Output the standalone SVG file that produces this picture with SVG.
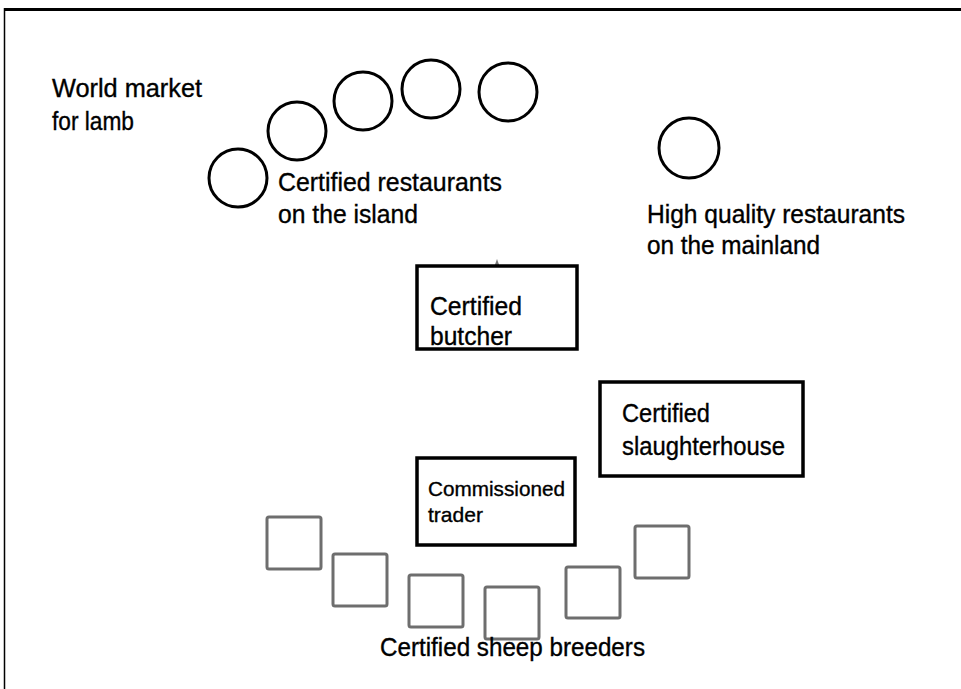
<svg xmlns="http://www.w3.org/2000/svg" width="961" height="689" viewBox="0 0 961 689">
<style>
text{font-family:"Liberation Sans",Arial,sans-serif;fill:#000;stroke:#000;stroke-width:0.35;}
.t{font-size:25px;}
.s{font-size:21px;}
.c{fill:none;stroke:#000;stroke-width:3;}
.b{fill:#fff;stroke:#000;stroke-width:3.5;}
.q{fill:none;stroke:#6e6e6e;stroke-width:3;}
</style>
<rect width="961" height="689" fill="#fff"/>
<g id="frame">
<line x1="4" y1="9.5" x2="961" y2="9.5" stroke="#000" stroke-width="3"/>
<line x1="4.5" y1="8" x2="4.5" y2="689" stroke="#000" stroke-width="1.5"/>
</g>
<g id="connectors">
<path d="M497,259 L499.5,266 L494.5,266 Z" fill="#777"/>
</g>
<g id="world-market">
<text class="t" x="52" y="97" textLength="150" lengthAdjust="spacingAndGlyphs">World market</text>
<text class="t" x="52" y="130" textLength="82" lengthAdjust="spacingAndGlyphs">for lamb</text>
</g>
<g id="island-restaurants">
<circle class="c" cx="238" cy="178" r="29"/>
<circle class="c" cx="297" cy="131" r="29"/>
<circle class="c" cx="363" cy="101" r="29"/>
<circle class="c" cx="431" cy="89" r="29"/>
<circle class="c" cx="508" cy="92" r="29"/>
<text class="t" x="278" y="191" textLength="224" lengthAdjust="spacingAndGlyphs">Certified restaurants</text>
<text class="t" x="278" y="223" textLength="140" lengthAdjust="spacingAndGlyphs">on the island</text>
</g>
<g id="mainland-restaurants">
<circle class="c" cx="689" cy="148" r="30"/>
<text class="t" x="647" y="223" textLength="258" lengthAdjust="spacingAndGlyphs">High quality restaurants</text>
<text class="t" x="647" y="254" textLength="173" lengthAdjust="spacingAndGlyphs">on the mainland</text>
</g>
<g id="butcher">
<rect class="b" x="417" y="266" width="160" height="83"/>
<text class="t" x="430" y="315" textLength="92" lengthAdjust="spacingAndGlyphs">Certified</text>
<text class="t" x="430" y="345" textLength="82" lengthAdjust="spacingAndGlyphs">butcher</text>
</g>
<g id="slaughterhouse">
<rect class="b" x="600" y="382" width="203" height="94"/>
<text class="t" x="622" y="422" textLength="88" lengthAdjust="spacingAndGlyphs">Certified</text>
<text class="t" x="622" y="455" textLength="163" lengthAdjust="spacingAndGlyphs">slaughterhouse</text>
</g>
<g id="trader">
<rect class="b" x="417" y="458" width="158" height="87"/>
<text class="s" x="428" y="496" textLength="137" lengthAdjust="spacingAndGlyphs">Commissioned</text>
<text class="s" x="428" y="522" textLength="55" lengthAdjust="spacingAndGlyphs">trader</text>
</g>
<g id="sheep-breeders">
<rect class="q" x="267" y="517" width="54" height="52" rx="2"/>
<rect class="q" x="333" y="554" width="54" height="52" rx="2"/>
<rect class="q" x="409" y="575" width="54" height="52" rx="2"/>
<rect class="q" x="485" y="587" width="54" height="52" rx="2"/>
<rect class="q" x="566" y="567" width="54" height="51" rx="2"/>
<rect class="q" x="635" y="526" width="54" height="52" rx="2"/>
<text class="t" x="380" y="656" textLength="265" lengthAdjust="spacingAndGlyphs">Certified sheep breeders</text>
</g>
</svg>
